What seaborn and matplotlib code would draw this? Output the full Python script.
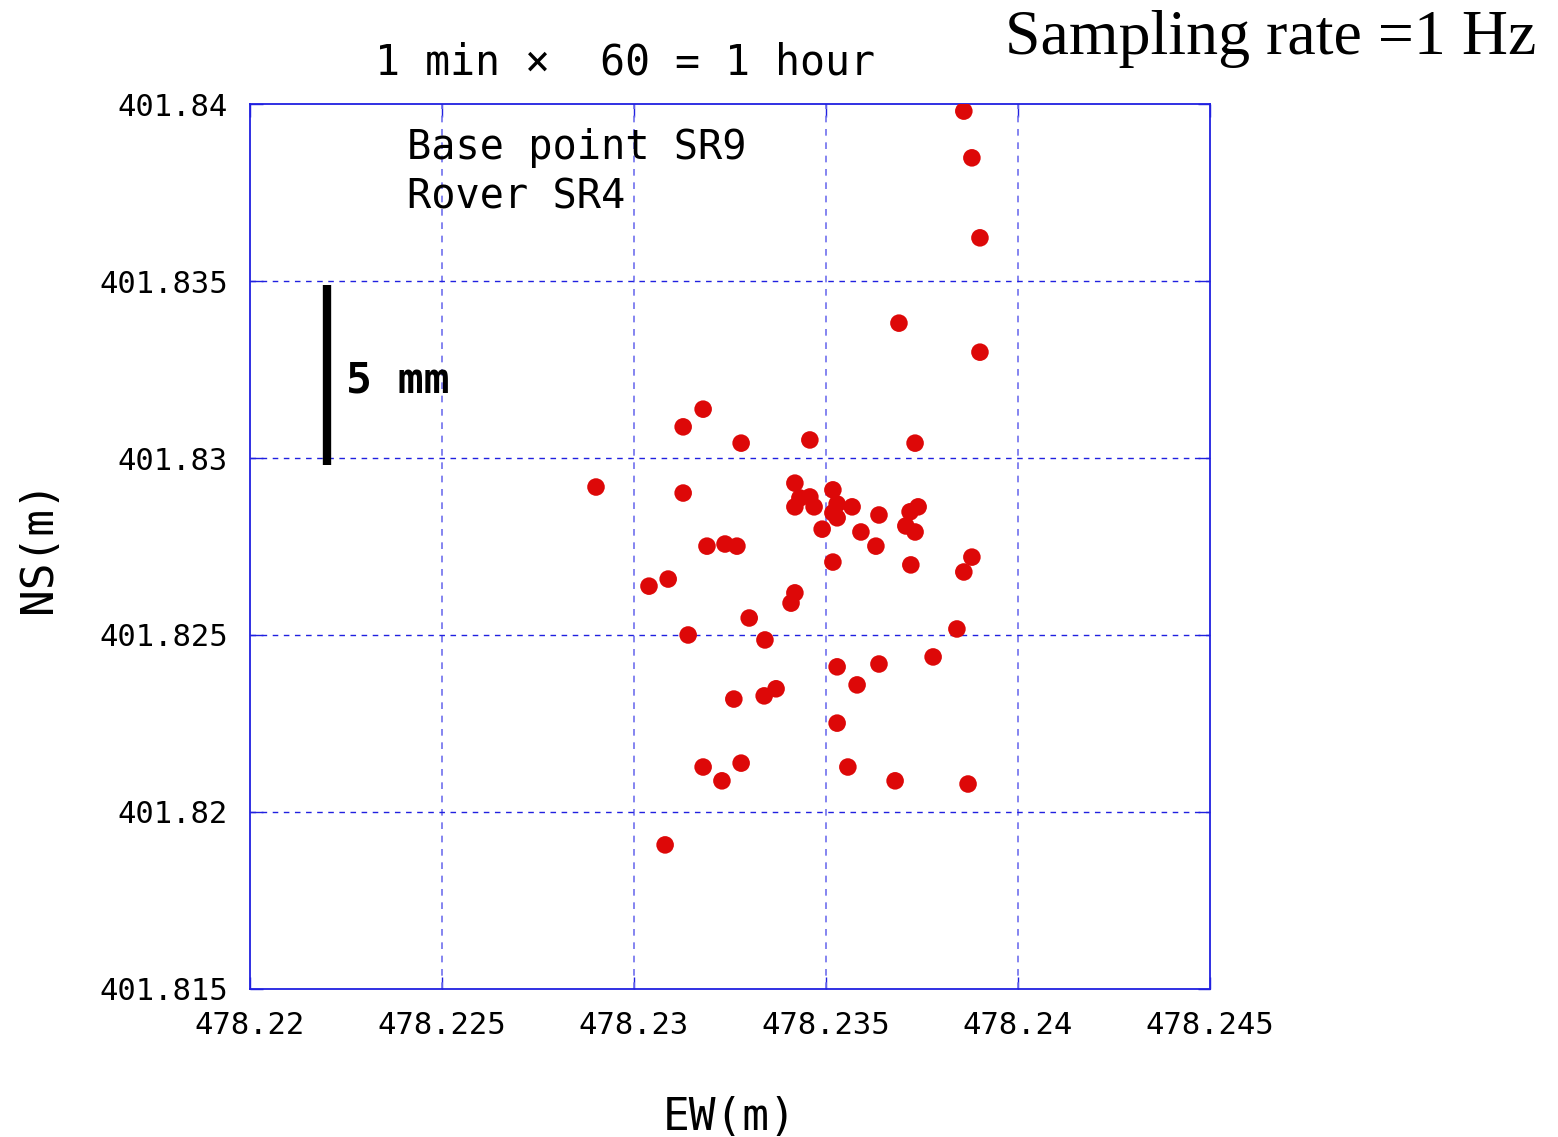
import matplotlib
matplotlib.use("Agg")
import matplotlib.pyplot as plt
import seaborn as sns
import pandas as pd

# Coordenadas (EW, NS en metros), 60 puntos
ew = [478.23859, 478.23880, 478.23901, 478.23690, 478.23901, 478.23180, 478.23128, 478.23279,
      478.23458, 478.23732, 478.22901, 478.23128, 478.23419, 478.23432, 478.23458, 478.23419,
      478.23469, 478.23518, 478.23529, 478.23518, 478.23529, 478.23568, 478.23638, 478.23719,
      478.23740, 478.23708, 478.23732, 478.23490, 478.23591, 478.23190, 478.23237, 478.23268,
      478.23630, 478.23518, 478.23721, 478.23880, 478.23859, 478.23039, 478.23089, 478.23419,
      478.23409, 478.23300, 478.23341, 478.23141, 478.23841, 478.23529, 478.23638, 478.23779,
      478.23581, 478.23370, 478.23339, 478.23260, 478.23529, 478.23180, 478.23279, 478.23557,
      478.23229, 478.23680, 478.23870, 478.23081]
ns = [401.83980, 401.83848, 401.83622, 401.83381, 401.83299, 401.83138, 401.83088, 401.83042,
      401.83051, 401.83042, 401.82918, 401.82901, 401.82929, 401.82887, 401.82890, 401.82862,
      401.82862, 401.82910, 401.82870, 401.82845, 401.82831, 401.82862, 401.82839, 401.82848,
      401.82862, 401.82808, 401.82791, 401.82799, 401.82791, 401.82751, 401.82757, 401.82751,
      401.82751, 401.82706, 401.82698, 401.82720, 401.82678, 401.82638, 401.82658, 401.82619,
      401.82590, 401.82548, 401.82486, 401.82500, 401.82517, 401.82410, 401.82418, 401.82438,
      401.82359, 401.82348, 401.82328, 401.82319, 401.82251, 401.82127, 401.82138, 401.82127,
      401.82088, 401.82088, 401.82079, 401.81907]

x_ticks = [478.22, 478.225, 478.23, 478.235, 478.24, 478.245]
x_labels = ["478.22", "478.225", "478.23", "478.235", "478.24", "478.245"]
y_ticks = [401.815, 401.82, 401.825, 401.83, 401.835, 401.84]
y_labels = ["401.815", "401.82", "401.825", "401.83", "401.835", "401.84"]

# barra de escala de 5 mm
bar_x = 478.222
bar_y = [401.8298, 401.8349]

df = pd.DataFrame({"EW": ew, "NS": ns})

sns.set_style("white")
plt.rcParams["font.family"] = ["DejaVu Sans Mono", "DejaVu Sans"]
plt.rcParams["text.color"] = "black"
plt.rcParams["axes.labelcolor"] = "black"
plt.rcParams["xtick.labelcolor"] = "black"
plt.rcParams["ytick.labelcolor"] = "black"

fig = plt.figure(figsize=(15.58, 11.37), dpi=100)
ax = fig.add_axes([0.1605, 0.1302, 0.6161, 0.7783])

sns.scatterplot(data=df, x="EW", y="NS", ax=ax, color="#dd0808", s=160,
                edgecolor="none", zorder=3)

ax.set_xlim(478.22, 478.245)
ax.set_ylim(401.815, 401.84)
ax.set_xticks(x_ticks)
ax.set_xticklabels(x_labels, fontsize=22)
ax.set_yticks(y_ticks)
ax.set_yticklabels(y_labels, fontsize=22)

# rejilla discontinua azul
ax.grid(False)
for xv in x_ticks[1:-1]:
    ax.axvline(xv, color="#7070ee", lw=1.2, ls=(0, (4, 4)), zorder=1)
for yv in y_ticks[1:-1]:
    ax.axhline(yv, color="#2020e0", lw=1.0, ls=(0, (4, 4)), zorder=1)

for sp in ax.spines.values():
    sp.set_color("#2020e0")
    sp.set_linewidth(1.3)
ax.tick_params(direction="in", length=9, width=1.0, color="#2020e0",
               top=True, right=True, bottom=True, left=True, pad=16)

ax.set_xlabel("EW(m)", fontsize=32, labelpad=40)
ax.set_ylabel("NS(m)", fontsize=32, labelpad=28)

ax.plot([bar_x, bar_x], bar_y, color="black", lw=6, solid_capstyle="butt", zorder=4)
ax.text(478.2225, 401.8322, "5 mm", fontsize=31, fontweight="bold", va="center", ha="left")

ax.text(478.2241, 401.83805, "Base point SR9\nRover SR4", fontsize=29, va="center",
        ha="left", linespacing=1.3)

fig.text(0.401, 0.945, "1 min \u00d7  60 = 1 hour", fontsize=30, ha="center", va="center")
fig.text(0.986, 0.966, "Sampling rate =1 Hz", fontsize=46, ha="right", va="center",
         family=["Liberation Serif", "DejaVu Serif"])

fig.savefig("out.png", dpi=100)
